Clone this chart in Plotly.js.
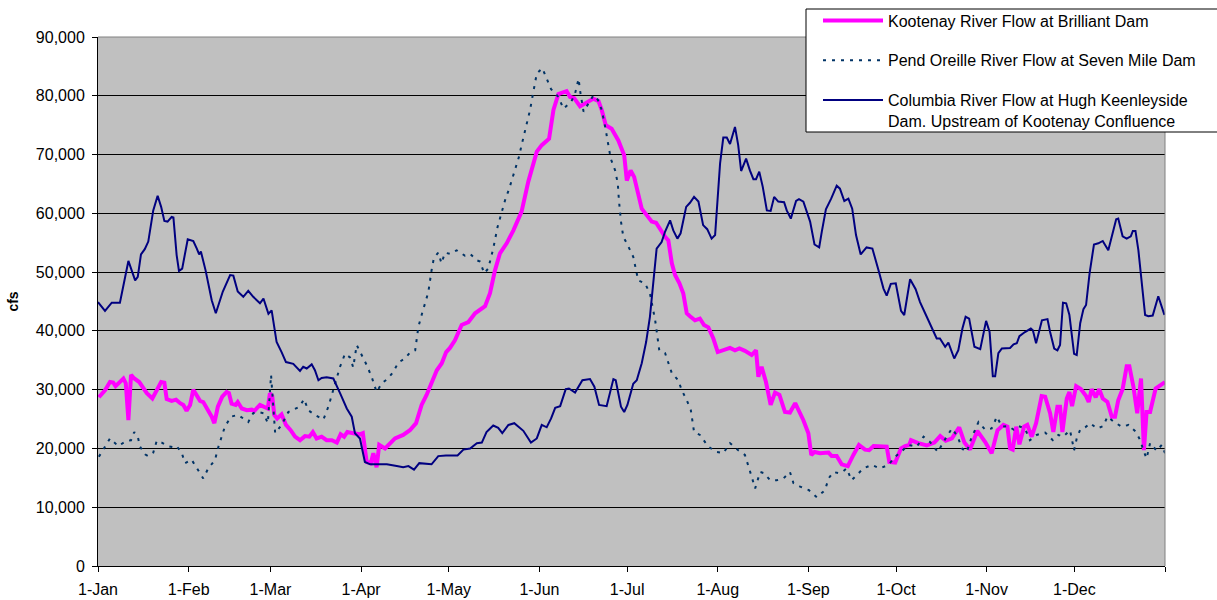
<!DOCTYPE html>
<html>
<head>
<meta charset="utf-8">
<script src="https://cdn.plot.ly/plotly-3.0.1.min.js"></script>
<style>html,body{margin:0;padding:0;background:#fff;}#chart{width:1217px;height:600px;}</style>
</head>
<body>
<div id="chart"></div>
<script>
// Month tick positions (day of year) and labels
const monthDays = [0, 31, 59, 90, 120, 151, 181, 212, 243, 273, 304, 334, 365];
const monthLabels = ['1-Jan','1-Feb','1-Mar','1-Apr','1-May','1-Jun','1-Jul','1-Aug','1-Sep','1-Oct','1-Nov','1-Dec',''];

// Kootenay River Flow at Brilliant Dam (cfs)
const kootenayDays = [0.3,2.4,4.1,5.2,6.0,7.2,8.7,9.5,10.4,11.3,12.4,14.1,15.2,16.7,18.6,20.1,21.6,22.7,23.5,25.2,26.7,28.1,29.2,30.3,31.5,32.6,33.8,34.9,36.0,37.7,38.9,39.8,41.0,42.5,44.0,44.8,45.7,47.1,47.8,49.2,50.9,52.6,53.5,55.4,56.6,58.1,58.8,59.6,60.3,61.3,62.8,64.3,65.9,67.4,69.1,70.8,72.3,73.5,74.8,76.5,78.2,80.0,81.7,83.0,84.2,85.3,87.3,89.6,90.6,91.9,93.3,94.2,95.3,96.2,98.2,99.9,101.6,104.4,106.7,108.8,110.7,112.4,114.1,115.9,117.6,119.1,120.4,122.1,124.4,126.7,129.0,130.7,132.4,134.1,135.8,137.5,139.8,142.1,144.9,147.2,150.1,151.8,154.3,155.8,157.5,158.6,160.3,161.5,162.9,164.9,166.4,168.0,169.4,171.2,172.3,173.7,175.7,178.0,180.0,180.9,182.2,183.4,184.8,186.0,187.7,189.4,190.9,192.5,194.0,195.1,196.3,197.4,198.9,200.2,201.4,202.5,204.2,205.9,207.3,208.8,210.5,212.0,213.9,216.2,217.9,219.4,221.3,223.6,225.1,225.9,227.0,228.5,230.1,231.6,233.1,235.0,236.7,238.5,241.3,243.0,244.0,245.1,247.0,249.9,251.0,252.7,254.4,256.5,258.4,260.3,262.4,263.8,265.3,267.5,269.8,270.7,272.7,274.7,276.1,277.5,278.1,280.6,283.5,286.1,288.1,290.0,292.1,294.6,296.4,298.3,300.8,303.5,305.7,307.7,309.7,311.1,312.0,312.9,314.1,315.2,316.8,317.9,319.4,320.9,322.8,324.0,325.7,326.8,328.2,329.1,329.9,331.4,332.3,333.2,334.6,336.2,338.0,338.9,339.9,341.3,342.5,343.7,345.3,346.8,347.9,349.0,350.5,351.9,352.8,354.2,355.5,356.8,357.8,358.7,359.9,361.8,363.3,365.0];
const kootenayFlow = [28700,29900,31300,31200,30600,31100,31900,31100,24800,32500,31900,31300,30500,29400,28500,29900,31300,31200,28400,28100,28300,27700,27400,26400,27400,30000,29100,28100,27900,26500,25400,24300,27100,28800,29600,29400,27600,27400,27900,26800,26500,26600,26400,27400,27100,26800,29400,28900,25700,25100,25800,24000,23100,22000,21400,22100,22000,22800,21700,22000,21400,21400,21000,22400,22000,22800,22600,22400,22600,17700,17500,19200,16800,20600,20000,20900,21700,22300,23100,24300,27400,29100,31300,33300,34500,36400,37100,38400,41000,41500,43000,43700,44200,46400,50300,53200,54900,57100,60300,65400,70500,71600,72700,77600,80300,80500,80800,79800,79600,78200,78600,79000,79500,79100,77600,75000,74400,72400,69900,65600,67300,66200,63400,60800,59700,58600,58400,57000,56000,55400,51500,49500,48100,46400,43000,42500,41800,42100,41000,40600,38700,36400,36700,37100,36700,37000,36600,35900,36700,32200,33900,31300,27400,29500,29100,26200,26100,27700,24800,22600,18900,19400,19200,19300,18700,18700,17300,17000,18900,20600,19800,19700,20400,20300,20300,17700,17600,20000,20400,20600,21400,20900,20500,21000,22100,21300,21700,23600,21000,19800,23000,21100,19200,23100,24000,23700,20000,19800,23700,20700,23700,24000,22000,24300,28900,28800,26000,22800,27100,27100,22800,28500,29600,27200,30600,30100,28900,27900,30100,28700,30100,28500,27900,25400,25400,28200,30100,34000,34000,30500,26000,31900,19700,26200,26200,30200,30800,31300];

// Pend Oreille River Flow at Seven Mile Dam (cfs)
const pendOreilleDays = [0.3,2.4,4.1,6.9,9.8,11.3,12.4,13.6,14.4,16.1,17.2,18.9,20.1,21.8,23.8,25.8,26.9,28.6,29.8,32.0,34.3,36.0,37.7,40.0,41.2,43.4,45.5,47.8,49.7,51.4,53.1,54.8,56.6,58.1,59.2,60.6,62.8,65.1,66.8,68.9,70.5,71.9,74.2,77.1,78.8,80.0,81.4,82.8,84.5,86.2,87.3,88.5,89.9,91.9,93.6,95.3,97.1,99.0,101.0,102.7,105.0,106.7,108.5,109.6,110.7,111.9,113.0,114.1,114.9,116.4,117.5,118.7,120.4,122.7,125.5,127.3,129.6,130.7,132.1,133.5,135.2,136.7,138.1,139.4,140.6,141.7,142.9,144.0,144.9,146.1,147.0,147.8,148.6,149.3,150.1,152.0,153.5,155.0,157.5,159.2,161.9,163.2,164.4,164.9,166.1,168.0,169.5,171.0,172.3,173.5,174.6,175.4,176.9,177.8,178.2,178.9,179.7,180.9,183.1,184.8,187.1,188.8,190.6,192.0,194.0,196.3,198.5,199.7,201.4,202.8,203.9,205.9,208.8,211.6,213.9,216.2,219.0,221.3,223.6,224.8,226.5,227.8,229.9,232.2,234.5,236.7,237.9,240.2,243.2,245.9,248.7,249.9,251.6,253.3,254.6,256.1,257.8,259.5,261.8,264.7,267.5,270.4,272.7,274.7,277.2,280.1,282.4,284.6,287.3,289.2,292.1,294.1,295.5,297.2,298.9,300.0,301.2,303.5,305.7,307.5,309.2,311.4,313.2,314.9,317.1,318.8,321.1,324.0,326.6,328.5,330.2,332.5,333.9,334.8,336.0,337.7,339.4,341.7,343.9,345.3,347.6,350.2,352.5,355.1,356.5,357.6,358.7,359.9,362.2,363.9,365.0];
const pendOreilleFlow = [18600,20400,21700,20400,21300,21400,22800,22000,20300,19000,18700,19300,21300,21000,20400,20200,20400,19300,17500,18100,16300,14900,16600,18000,20300,23700,25400,25700,25100,24500,26000,26200,26000,24300,32500,22600,24000,26200,26600,27100,28400,26500,25700,24900,27100,29100,31600,33900,36100,35500,33800,37600,36200,34200,32200,29600,31100,31800,33000,34600,35300,36300,36700,40700,42700,44700,46600,50300,52400,53300,51500,53300,53100,53700,52800,53100,52000,51800,49800,50600,54000,57700,60300,62500,64100,65900,67900,69600,71600,73900,75600,77600,79800,81800,83800,84700,82900,81100,79800,77800,79000,80400,82900,80900,77300,78800,80100,79300,77600,74700,71900,69300,67300,65100,62200,58600,56000,54900,52600,48600,48100,46400,41800,36700,36200,32800,31600,29900,28200,26500,22800,22300,20300,19400,19200,20900,19700,18900,15200,13200,16000,15800,14600,14600,14900,16000,14100,13500,12900,11700,12900,14900,16000,15800,16000,16600,14600,15500,16600,17200,16600,17200,18600,19400,20600,20300,22000,21100,19400,21100,23400,22000,20000,19400,22000,23100,24500,23200,23400,25400,23700,23800,23200,23800,23400,21400,22300,22700,21400,22300,22000,23100,19700,21700,23200,23600,24300,23400,23800,25400,24500,23700,24000,22800,21400,19700,18300,20900,19600,20600,19200];

// Columbia River Flow at Hugh Keenleyside Dam (cfs)
const columbiaDays = [0,2.4,4.7,7.5,10.4,12.7,13.6,14.7,16.0,17.2,18.9,20.4,21.6,22.7,23.8,25.2,25.8,26.9,27.7,28.8,30.7,32.6,33.8,34.6,35.2,36.8,38.9,40.3,42.7,45.2,46.3,47.8,49.7,51.4,53.1,55.4,56.6,58.3,59.4,61.1,62.8,64.3,66.8,69.1,70.2,71.4,73.1,74.2,75.4,76.5,78.2,80.5,82.8,85.1,86.8,87.9,89.6,91.3,93.1,98.8,102.2,104.4,106.2,108.1,109.9,114.1,116.4,119.0,123.0,125.0,127.3,129.6,131.3,132.9,135.2,136.9,138.3,140.4,142.4,145.5,148.1,150.1,151.8,153.5,155.0,156.4,158.1,160.0,161.1,163.2,165.7,168.3,169.8,171.4,174.0,176.3,177.1,178.9,180.0,181.1,183.1,184.3,186.0,187.5,188.8,190.0,191.1,192.8,194.0,195.7,196.8,198.2,199.3,201.2,202.5,203.9,205.4,207.0,208.4,209.9,211.1,212.8,213.9,215.1,216.2,217.9,219.0,220.0,221.7,223.0,224.2,225.1,226.2,227.4,228.8,230.1,231.3,232.7,234.7,235.6,237.0,238.8,239.8,241.3,243.6,245.1,246.7,247.6,249.0,250.8,252.7,253.8,255.3,256.7,258.0,259.3,260.9,262.9,264.9,266.9,268.7,269.8,271.2,272.9,274.7,275.8,277.8,279.7,281.2,283.5,286.9,288.0,289.8,290.9,292.9,294.3,295.7,296.8,298.0,299.8,301.8,303.8,305.0,306.1,306.9,308.0,309.2,312.0,313.2,314.3,315.2,317.1,319.1,319.8,320.9,322.9,324.8,325.7,327.1,328.2,329.1,330.1,331.2,332.3,333.9,334.8,336.0,337.1,338.0,339.2,340.7,342.2,343.7,345.6,347.1,348.3,349.0,350.5,351.9,353.3,354.0,354.9,355.9,357.1,358.2,359.3,360.8,362.7,363.9,364.8];
const columbiaFlow = [44900,43400,44800,44800,51900,48600,49200,53000,53900,55200,60500,63000,61100,58700,58600,59400,59300,52900,50200,50600,55600,55300,54000,53000,53500,50300,45200,43000,46700,49500,49400,46700,45800,46800,45800,44700,45500,42900,43500,38100,36400,34700,34400,33200,33900,33600,34300,33300,31600,32000,32100,31900,29400,26800,25400,22600,21700,17700,17300,17300,17000,16800,17000,16400,17500,17300,18700,18800,18800,19800,20000,20900,21000,22800,23900,23500,22600,24000,24300,23000,21000,21700,24000,23600,25100,26900,27200,30100,30200,29500,31600,31800,30500,27400,27200,31800,31600,27100,26200,27400,31000,31600,34500,38100,42400,48100,54000,55100,56900,58800,57100,55700,56600,61100,61800,62800,62000,58000,57300,55700,56300,68500,72900,72900,71800,74700,71600,67200,69300,67300,65800,65800,67100,64500,60500,60400,62800,62000,61900,60500,59100,62100,62400,62000,58600,54700,54200,56900,60700,62500,64700,64200,62100,62500,60800,56300,53000,54200,54000,50500,47200,46000,48000,48100,43400,42700,48800,47100,44900,42400,38700,38700,37300,38000,35300,36700,40400,42400,42100,37300,36900,41700,39800,32300,32300,36200,37000,37100,37700,37900,39100,39800,40400,40100,37900,41800,42000,39800,37000,36700,37600,44800,44700,42700,36100,35900,41300,43700,44400,49800,54700,54900,55300,53700,56600,59000,59100,56100,55700,56100,57000,57000,53700,47500,42700,42500,42600,45900,44100,42700];

const seriesNames = [
  'Kootenay River Flow at Brilliant Dam',
  'Pend Oreille River Flow at Seven Mile Dam',
  'Columbia River Flow at Hugh Keenleyside<br>Dam. Upstream of Kootenay Confluence'
];

const traces = [
  {x: kootenayDays, y: kootenayFlow, name: seriesNames[0], type: 'scatter', mode: 'lines',
   line: {color: '#FF00FF', width: 4}, legendgroup: 'a'},
  {x: pendOreilleDays, y: pendOreilleFlow, name: seriesNames[1], type: 'scatter', mode: 'lines',
   line: {color: '#003366', width: 2, dash: '3px,6px'}, legendgroup: 'b'},
  {x: columbiaDays, y: columbiaFlow, name: seriesNames[2], type: 'scatter', mode: 'lines',
   line: {color: '#000080', width: 2}, legendgroup: 'c'}
];

const W = 1067, H = 529, L = 98, T = 37;
const px = v => (v - L) / W;
const py = v => (T + H - v) / H;

const layout = {
  width: 1217, height: 600,
  margin: {l: 98, r: 52, t: 37, b: 34, pad: 0, autoexpand: false},
  paper_bgcolor: '#FFFFFF',
  plot_bgcolor: '#C0C0C0',
  font: {family: 'Arial, "Liberation Sans", sans-serif', size: 16, color: '#000'},
  showlegend: true,
  xaxis: {
    range: [0, 365], tickmode: 'array', tickvals: monthDays, ticktext: monthLabels,
    ticks: 'outside', ticklen: 5, tickcolor: '#000', tickwidth: 1,
    showline: true, linecolor: '#000', linewidth: 1, showgrid: false, zeroline: false,
    ticklabelstandoff: 4, automargin: false,
    tickfont: {size: 16}
  },
  yaxis: {
    range: [0, 90000], dtick: 10000, tick0: 0, tickformat: ',d',
    ticks: 'outside', ticklen: 5, tickcolor: '#000', tickwidth: 1,
    showline: true, linecolor: '#000', linewidth: 1,
    showgrid: true, gridcolor: '#000', gridwidth: 1, zeroline: false,
    ticklabelstandoff: 4, automargin: false,
    tickfont: {size: 16},
    title: {text: '<b>cfs</b>', font: {size: 14}, standoff: 13}
  },
  legend: {
    xref: 'container', yref: 'container',
    x: 818 / 1217, y: 1 - 3.5 / 600, xanchor: 'left', yanchor: 'top',
    bgcolor: 'rgba(0,0,0,0)', borderwidth: 0,
    font: {size: 16}, tracegroupgap: 16, itemwidth: 60, valign: 'top',
    traceorder: 'grouped'
  },
  shapes: [
    {type: 'path', xref: 'paper', yref: 'paper', path: 'M0,1 L1,1 L1,0',
     line: {color: '#808080', width: 1}},
    {type: 'rect', xref: 'paper', yref: 'paper', x0: px(806), x1: px(1222), y0: py(132), y1: py(9),
     fillcolor: '#FFFFFF', line: {color: '#000', width: 1}}
  ]
};

Plotly.newPlot('chart', traces, layout, {displayModeBar: false, staticPlot: true});
</script>
</body>
</html>
